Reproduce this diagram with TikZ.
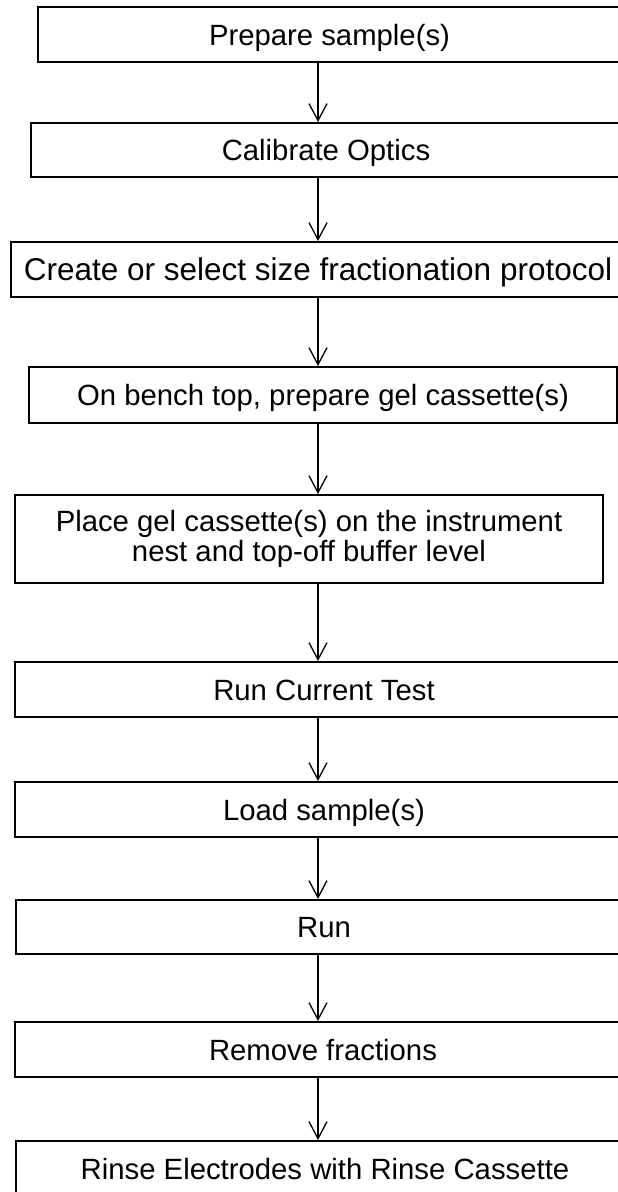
\documentclass[tikz,border=0pt]{standalone}
\usepackage{fontspec}
\setmainfont{Liberation Sans}
\usetikzlibrary{arrows.meta}

\tikzset{
  stepbox/.style={draw, line width=2pt, inner sep=0pt, align=center,
    text height=21pt, text depth=0pt, font=\fontsize{29.3}{30}\selectfont},
  flow/.style={line width=1.3pt, -{Straight Barb[length=17pt,width=18pt,line width=1.3pt]}}
}

\begin{document}
\begin{tikzpicture}[x=1pt,y=-1pt]
\useasboundingbox (0,0) rectangle (618,1192);
\coordinate (axis) at (318,0);

% steps
  \node[stepbox, minimum width=583pt, minimum height=55pt] (prep) at (329.5,34.5) {Prepare sample(s)};
  \node[stepbox, minimum width=590pt, minimum height=54pt] (calib) at (326,150) {Calibrate Optics};
  \node[stepbox, minimum width=614pt, minimum height=55pt, font=\fontsize{31.5}{32}\selectfont, text height=22pt] (protocol) at (318,269.5) {Create or select size fractionation protocol};
  \node[stepbox, minimum width=588pt, minimum height=56pt] (bench) at (323,395) {On bench top, prepare gel cassette(s)};
  \node[stepbox, minimum width=588pt, minimum height=88pt, text height={}, text depth={}] (nest) at (309,539)
    {Place gel cassette(s) on the instrument\\nest and top-off buffer level};
  \node[stepbox, minimum width=618pt, minimum height=55pt] (current) at (324,689.5) {Run Current Test};
  \node[stepbox, minimum width=618pt, minimum height=55pt] (load) at (324,809.5) {Load sample(s)};
  \node[stepbox, minimum width=616pt, minimum height=54pt] (run) at (324,927) {Run};
  \node[stepbox, minimum width=616pt, minimum height=55pt] (fractions) at (323,1049.5) {Remove fractions};
  \node[stepbox, minimum width=618pt, minimum height=55pt] (rinse) at (325,1168.5) {Rinse Electrodes with Rinse Cassette};

% arrows
  \draw[flow] (prep.south -| axis) -- (calib.north -| axis);
  \draw[flow] (calib.south -| axis) -- (protocol.north -| axis);
  \draw[flow] (protocol.south -| axis) -- (bench.north -| axis);
  \draw[flow] (bench.south -| axis) -- (nest.north -| axis);
  \draw[flow] (nest.south -| axis) -- (current.north -| axis);
  \draw[flow] (current.south -| axis) -- (load.north -| axis);
  \draw[flow] (load.south -| axis) -- (run.north -| axis);
  \draw[flow] (run.south -| axis) -- (fractions.north -| axis);
  \draw[flow] (fractions.south -| axis) -- (rinse.north -| axis);

\end{tikzpicture}
\end{document}
